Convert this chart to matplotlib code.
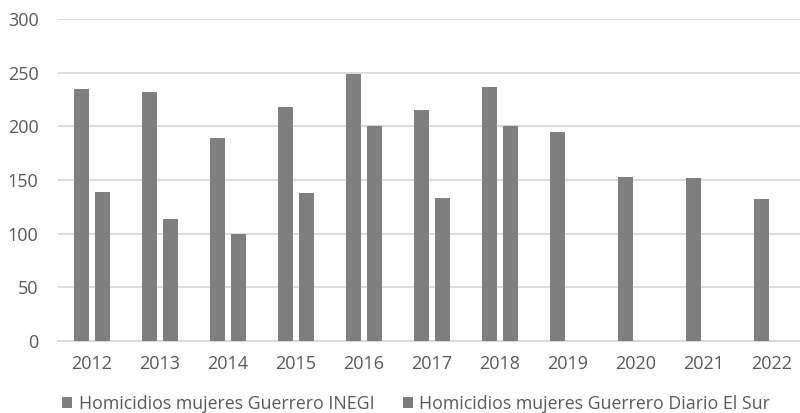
import matplotlib
matplotlib.use("Agg")
import matplotlib.pyplot as plt
import numpy as np

years = ["2012", "2013", "2014", "2015", "2016", "2017", "2018", "2019", "2020", "2021", "2022"]
inegi = [235, 232, 189, 218, 249, 215, 237, 195, 153, 152, 132]
el_sur = [139, 114, 100, 138, 200, 133, 200, np.nan, np.nan, np.nan, np.nan]
series_names = ["Homicidios mujeres Guerrero INEGI", "Homicidios mujeres Guerrero Diario El Sur"]
yticks = [0, 50, 100, 150, 200, 250, 300]

plt.rcParams['font.family'] = ['Open Sans', 'DejaVu Sans']
text_color = "#595959"
bar_color = "#7f7f7f"
grid_color = "#d9d9d9"

fig = plt.figure(figsize=(8, 4.13), dpi=100)
ax = fig.add_axes([58/800, 1-341/413, 748/800, (341-19)/413])

x = np.arange(len(years))
w = 0.22
gap = 0.075
ax.bar(x - (w+gap)/2, inegi, width=w, color=bar_color, label=series_names[0], zorder=3)
ax.bar(x + (w+gap)/2, el_sur, width=w, color=bar_color, label=series_names[1], zorder=3)

ax.set_xlim(-0.5, len(years)-0.5)
ax.set_ylim(0, 300)
ax.set_yticks(yticks)
ax.set_xticks(x)
ax.set_xticklabels(years)
ax.yaxis.grid(True, color=grid_color, linewidth=1.3, zorder=0)
ax.set_axisbelow(True)
for s in ["top", "right", "left"]:
    ax.spines[s].set_visible(False)
ax.spines["bottom"].set_color(grid_color)
ax.spines["bottom"].set_linewidth(1.3)
ax.tick_params(axis="both", length=0, colors=text_color, labelsize=13)
ax.tick_params(axis="y", pad=14)
ax.tick_params(axis="x", pad=10)

fig.legend(loc="center", bbox_to_anchor=(0.52, 0.022), ncol=2, frameon=False,
           fontsize=12.8, labelcolor=text_color, handlelength=0.6, handleheight=0.6,
           handletextpad=0.35, columnspacing=1.6)

fig.savefig("out.png", dpi=100)
